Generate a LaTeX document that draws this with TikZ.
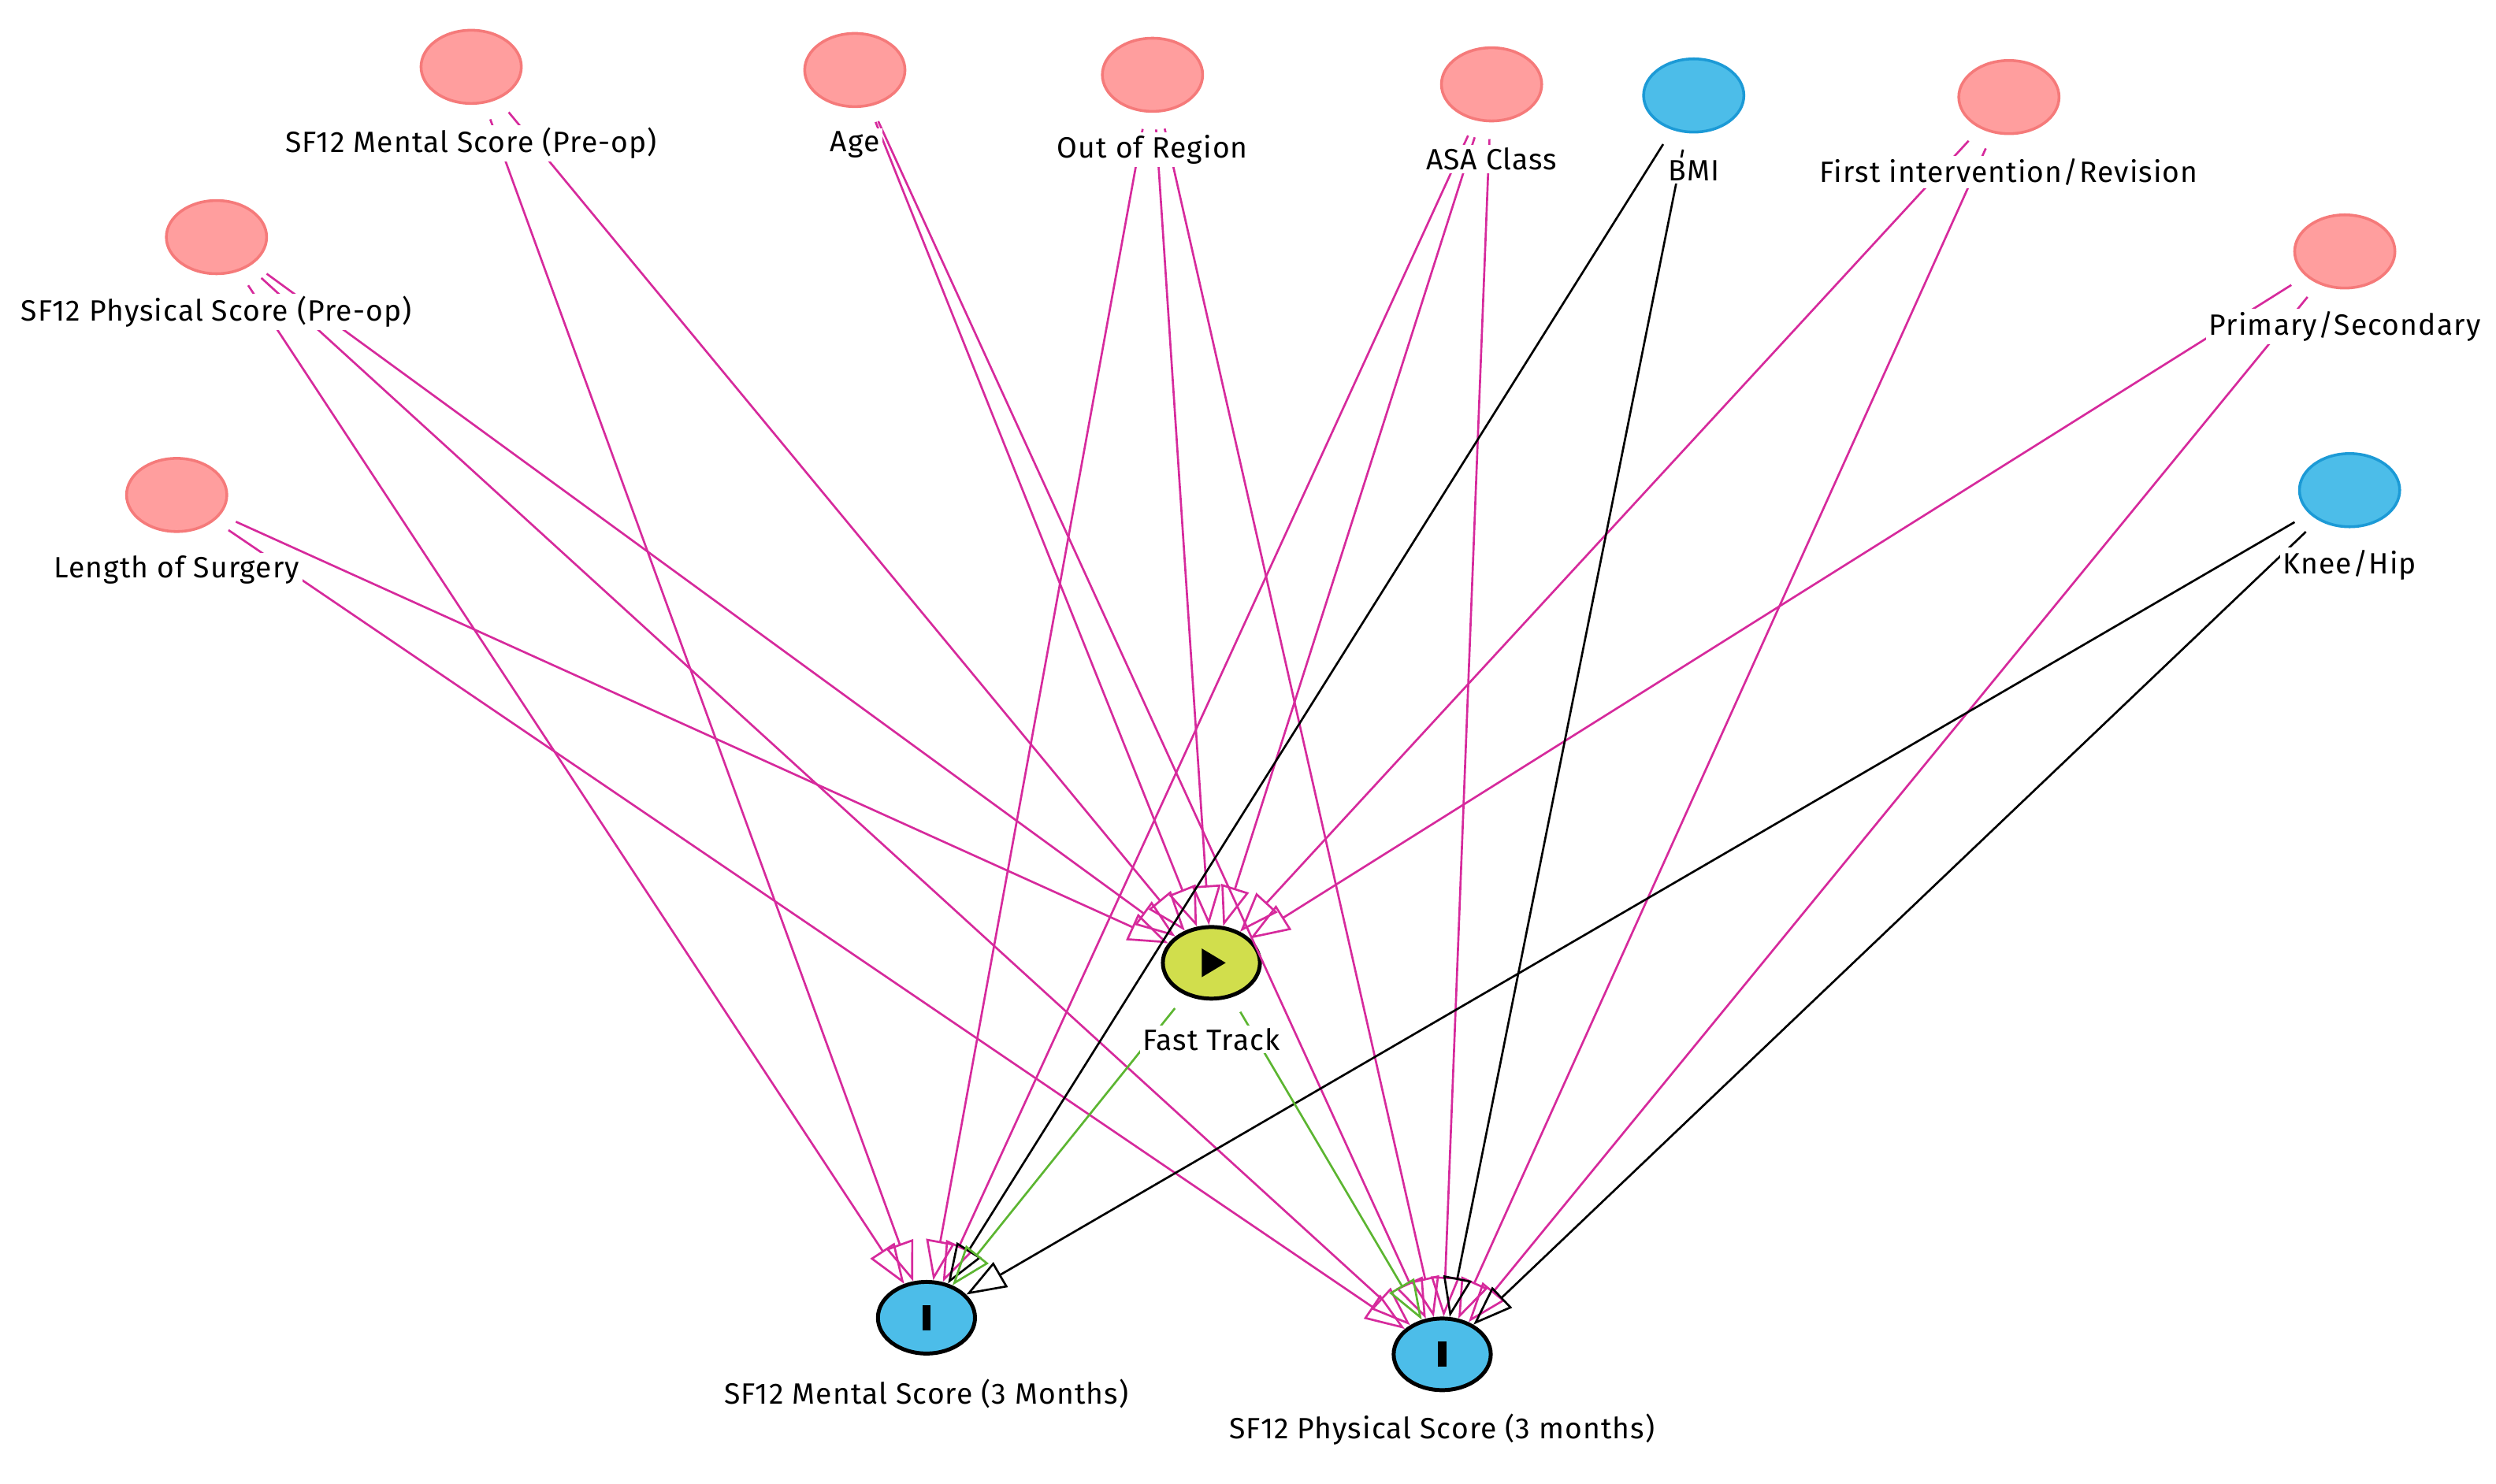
\documentclass[tikz,border=0pt]{standalone}
\usepackage{fontspec}
\setmainfont{Fira Sans}[LetterSpace=3]
\usetikzlibrary{arrows.meta,shapes.geometric}
\definecolor{pinkfill}{HTML}{FF9E9E}
\definecolor{pinkline}{HTML}{F57A7A}
\definecolor{bluefill}{HTML}{4CBDE9}
\definecolor{blueline}{HTML}{1C9AD6}
\definecolor{ftfill}{HTML}{D1DE4C}
\definecolor{edgepink}{HTML}{D62A9C}
\definecolor{edgegreen}{HTML}{5CB531}
\tikzset{
  var/.style={ellipse, draw=pinkline, fill=pinkfill, line width=1pt, minimum width=1.26cm, minimum height=0.92cm, inner sep=0pt},
  obs/.style={var, draw=blueline, fill=bluefill},
  outc/.style={var, draw=black, fill=bluefill, line width=1.4pt, minimum width=1.22cm, minimum height=0.9cm},
  expo/.style={outc, fill=ftfill},
  lbl/.style={fill=white, inner sep=1pt, font=\fontsize{10.5}{12}\selectfont},
  edge/.style={-{Triangle[open, length=0.5cm, width=0.36cm]}, edgepink, line width=0.75pt, shorten <=6pt},
  blk/.style={edge, black},
  grn/.style={edge, edgegreen}
}
\begin{document}
\begin{tikzpicture}[x=0.02cm, y=-0.02cm]
\useasboundingbox (0,0) rectangle (1568,932);
 % variables
                \node [var] (mentpre) at (296,42) {};
                \node [var] (age) at (537,44) {};
                \node [var] (outreg) at (724,47) {};
                \node [var] (asa) at (937,53) {};
                \node [obs] (bmi) at (1064,60) {};
                \node [var] (firstint) at (1262,61) {};
                \node [var] (physpre) at (136,149) {};
                \node [var] (primsec) at (1473,158) {};
                \node [var] (lensurg) at (111,311) {};
                \node [obs] (kneehip) at (1476,308) {};
                % exposure and outcomes
                \node [expo] (ft) at (761,605) {};
                \node [outc] (ment3) at (582,828) {\rule{3pt}{9pt}};
                \node [outc] (phys3) at (906,851) {\rule{3pt}{9pt}};
                \fill (755,596) -- (755,614) -- (770,605) -- cycle;
                % into fast track
                \foreach \v in {mentpre, age, outreg, asa, firstint, physpre, primsec, lensurg}
                  \draw [edge] (\v) -- (ft);
                % into mental score
                \foreach \v in {mentpre, physpre, outreg, asa}
                  \draw [edge] (\v) -- (ment3);
                % into physical score
                \foreach \v in {lensurg, physpre, age, outreg, asa, firstint, primsec}
                  \draw [edge] (\v) -- (phys3);
                \draw [blk] (bmi) -- (ment3);
                \draw [blk] (bmi) -- (phys3);
                \draw [blk] (kneehip) -- (ment3);
                \draw [blk] (kneehip) -- (phys3);
                \draw [grn] (ft) -- (ment3);
                \draw [grn] (ft) -- (phys3);
                % labels
                \node [lbl] (lmentpre) at (296,90) {SF12 Mental Score (Pre-op)};
                \node [lbl] (lage) at (537,91) {Age};
                \node [lbl] (loutreg) at (724,94) {Out of Region};
                \node [lbl] (lasa) at (937,100) {ASA Class};
                \node [lbl] (lbmi) at (1064,107) {BMI};
                \node [lbl] (lfirstint) at (1262,108) {First intervention/Revision};
                \node [lbl] (lphyspre) at (136,196) {SF12 Physical Score (Pre-op)};
                \node [lbl] (lprimsec) at (1473,205) {Primary/Secondary};
                \node [lbl] (llensurg) at (111,358) {Length of Surgery};
                \node [lbl] (lkneehip) at (1476,355) {Knee/Hip};
                \node [lbl] (lft) at (761,653) {Fast Track};
                \node [lbl] (lment3) at (582,876) {SF12 Mental Score (3 Months)};
                \node [lbl] (lphys3) at (906,898) {SF12 Physical Score (3 months)};
\end{tikzpicture}
\end{document}
